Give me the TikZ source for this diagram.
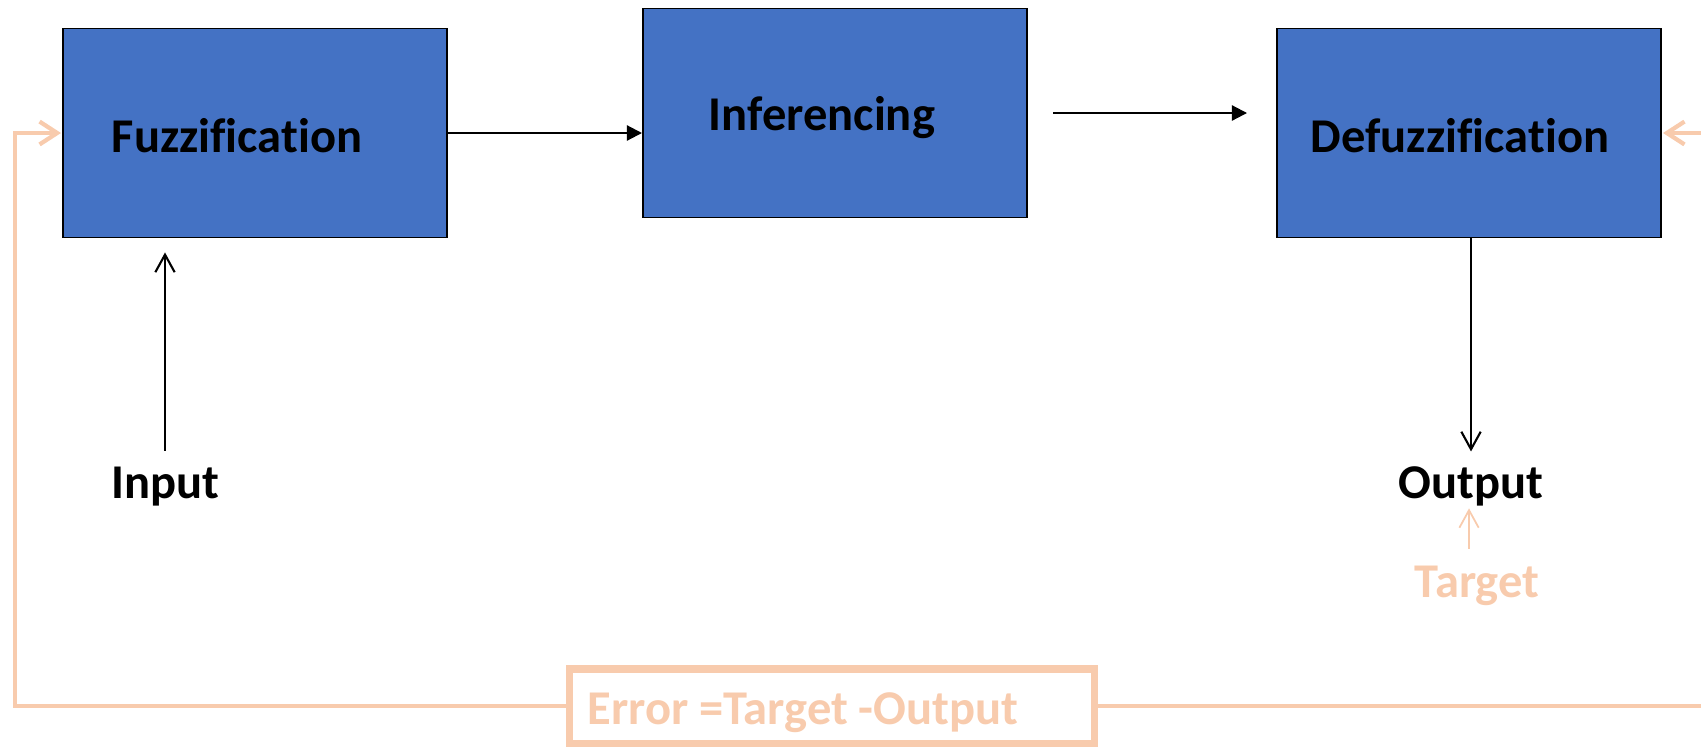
\documentclass[tikz,border=0pt]{standalone}
\usepackage{fontspec}
\setmainfont{Carlito}[Ligatures=NoCommon]
\usetikzlibrary{arrows.meta, positioning, calc}
\definecolor{boxblue}{RGB}{68, 114, 196}
\definecolor{peach}{RGB}{248, 203, 173}

\begin{document}
\begin{tikzpicture}[x=0.01cm, y=-0.01cm,
    block/.style={rectangle, draw=black, line width=0.5pt, fill=boxblue,
                  minimum width=3.84cm, minimum height=2.09cm},
    lbl/.style={inner sep=0pt, anchor=base,
                font=\fontsize{13.8}{16}\selectfont\bfseries},
    flow/.style={-{Triangle[length=4.3pt, width=4.3pt]}, line width=0.6pt},
    feed/.style={draw=peach, line width=1.2pt,
                 -{Straight Barb[length=5pt, width=6.5pt, line width=1.2pt]}}]

\useasboundingbox (0,0) rectangle (1701,748);
\clip (0,0) rectangle (1701,748);

% Fuzzy system blocks
\node[block] (fuzz) at (255,133) {};
\node[lbl] (fuzz-txt) at (237,152) {Fuzzification};

\node[block] (inf) at (835,113) {};
\node[lbl] (inf-txt) at (822,130) {Inferencing};

\node[block] (defuzz) at (1469,133) {};
\node[lbl] (defuzz-txt) at (1460,152) {Defuzzification};

% Input and output
\node[lbl] (input) at (165,498) {Input};
\node[lbl] (output) at (1471,498) {Output};
\node[lbl, text=peach] (target) at (1477,597) {Target};

% Error box
\node[rectangle, draw=peach, line width=2pt, fill=white,
      minimum width=5.24cm, minimum height=0.74cm] (err) at (832,706) {};
\node[lbl, text=peach] (err-txt) at (803,724) {Error =Target -Output};

% Forward arrows
\draw[flow] (fuzz.east) -- (fuzz.east -| inf.west);
\draw[flow] ($(inf.east)+(25,0)$) -- ($(inf.east -| defuzz.west)+(-29,0)$);
\draw[-{Straight Barb[length=5pt, width=5.5pt]}, line width=0.6pt]
      ($(input.north)+(0,-15)$) -- ($(fuzz.south -| input)+(0,14)$);
\draw[-{Straight Barb[length=5pt, width=5.5pt]}, line width=0.6pt]
      (defuzz.south -| output) -- ($(output.north)+(0,-14)$);
\draw[draw=peach, line width=0.5pt, -{Straight Barb[length=5pt, width=5.5pt]}]
      ($(target.north)+(-8,-16)$) -- ($(output.south)+(-2,2)$);

% Feedback loop
\coordinate (fb-left) at (15,133);
\coordinate (fb-right) at (1715,133);
\draw[feed] (err.west) -| (fb-left) -- ($(fuzz.west)+(-1,0)$);
\draw[feed] (err.east) -| (fb-right) -- ($(defuzz.east)+(1,0)$);

\end{tikzpicture}
\end{document}
